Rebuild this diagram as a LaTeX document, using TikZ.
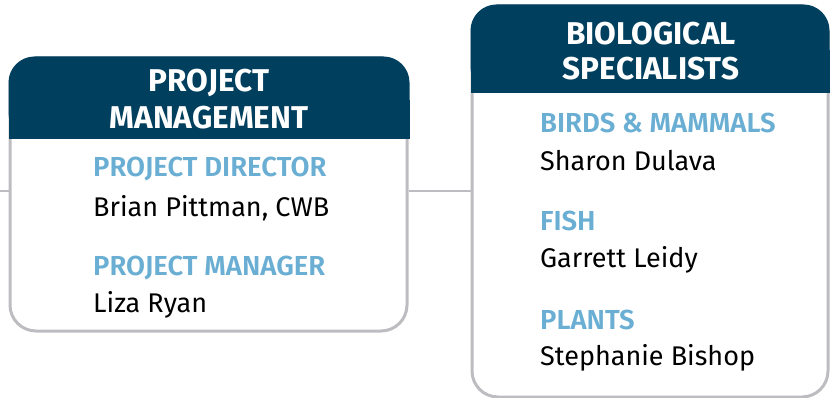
\documentclass[tikz,border=0pt]{standalone}
\usepackage{fontspec}
\setmainfont{Fira Sans}[BoldFont={Fira Sans SemiBold}]
\newfontfamily\hdrfont{Fira Sans Bold}
\usetikzlibrary{positioning}
\definecolor{hdrblue}{HTML}{003F5E}
\definecolor{lblblue}{HTML}{6AAFD3}
\definecolor{bordergray}{HTML}{BDBDC1}
\tikzset{
  boxframe/.style={draw=bordergray, line width=3pt, rounded corners=26pt, fill=white, inner sep=0pt},
  hdrtext/.style={text=white, font=\hdrfont\fontsize{31.5}{36}\selectfont, align=center, inner sep=0pt},
  lbltext/.style={text=lblblue, font=\bfseries\fontsize{27.5}{32}\selectfont, anchor=west, inner sep=0pt},
  nametext/.style={text=black, font=\fontsize{27}{32}\selectfont, anchor=west, inner sep=0pt},
  conn/.style={draw=bordergray, line width=2pt}
}
\begin{document}
\begin{tikzpicture}[x=1pt,y=-1pt]
\useasboundingbox (0,0) rectangle (830,398);
% left box
\node[boxframe, minimum width=397pt, minimum height=273pt] (pm) at (208.5,194.5) {};
\fill[hdrblue, rounded corners=26pt] (8.5,56.5) rectangle (409.5,139);
\fill[hdrblue] (8.5,100) rectangle (409.5,139);
\node[hdrtext] (pmh1) at (209,83) {PROJECT};
\node[hdrtext] (pmh2) at (209,118) {MANAGEMENT};
\node[lbltext] (pd) at (93,169) {PROJECT DIRECTOR};
\node[nametext] (pdn) at (93,208) {Brian Pittman, CWB};
\node[lbltext] (pmg) at (93,268) {PROJECT MANAGER};
\node[nametext] (pmn) at (93,305) {Liza Ryan};
% right box
\node[boxframe, minimum width=356pt, minimum height=391pt] (bs) at (650,201.5) {};
\fill[hdrblue, rounded corners=26pt] (470.5,4.5) rectangle (829.5,93);
\fill[hdrblue] (470.5,50) rectangle (829.5,93);
\node[hdrtext] (bsh1) at (651,34) {BIOLOGICAL};
\node[hdrtext] (bsh2) at (651,69) {SPECIALISTS};
\node[lbltext] (bm) at (540,123) {BIRDS \& MAMMALS};
\node[nametext] (bmn) at (540,161) {Sharon Dulava};
\node[lbltext] (fi) at (540,221) {FISH};
\node[nametext] (fin) at (540,260) {Garrett Leidy};
\node[lbltext] (pl) at (540,320) {PLANTS};
\node[nametext] (pln) at (540,358) {Stephanie Bishop};
% connectors
\coordinate (lstub) at (0,191);
\draw[conn] (lstub) -- (pm.west |- lstub);
\draw[conn] (pm.east |- lstub) -- (bs.west |- lstub);
\end{tikzpicture}
\end{document}
